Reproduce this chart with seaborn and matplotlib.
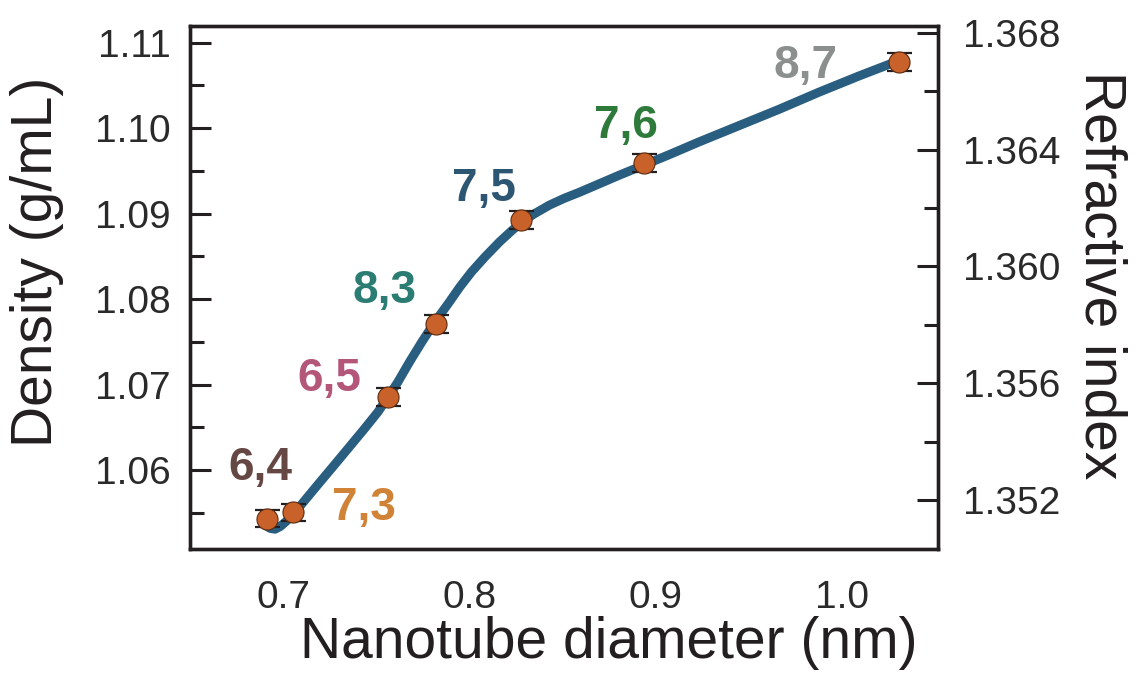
import matplotlib
matplotlib.use("Agg")

import matplotlib.pyplot as plt
from matplotlib.ticker import MultipleLocator, FormatStrFormatter
import pandas as pd
import seaborn as sns

# ---------------------------------------------------------------------------
# Data
# ---------------------------------------------------------------------------
chirality = ["6,4", "7,3", "6,5", "8,3", "7,5", "7,6", "8,7"]
diameter_nm = [0.6913, 0.7052, 0.7564, 0.7820, 0.8279, 0.8939, 1.0305]
density = [1.0543, 1.0551, 1.0686, 1.0771, 1.0892, 1.0959, 1.1077]
density_err = [0.0010, 0.0010, 0.00105, 0.00105, 0.00105, 0.00105, 0.00105]
label_colors = ["#654744", "#D08236", "#B45678", "#2B7C72",
                "#2D5672", "#2D7A3A", "#8B908F"]

# smooth guide line
curve_d = [0.6909, 0.6930, 0.6957, 0.6984, 0.7016, 0.7054, 0.7118, 0.7198,
           0.7279, 0.7359, 0.7439, 0.7509, 0.7562, 0.7616, 0.7680, 0.7745,
           0.7820, 0.7884, 0.7948, 0.8012, 0.8082, 0.8162, 0.8227, 0.8280,
           0.8350, 0.8430, 0.8510, 0.8591, 0.8698, 0.8805, 0.8939, 0.9073,
           0.9234, 0.9448, 0.9662, 0.9876, 1.0091, 1.0305]
curve_rho = [1.0535, 1.0532, 1.0531, 1.0534, 1.0540, 1.0548, 1.0565, 1.0586,
             1.0607, 1.0628, 1.0649, 1.0668, 1.0685, 1.0703, 1.0727, 1.0750,
             1.0775, 1.0794, 1.0814, 1.0832, 1.0849, 1.0867, 1.0880, 1.0890,
             1.0900, 1.0910, 1.0918, 1.0925, 1.0935, 1.0945, 1.0957, 1.0969,
             1.0984, 1.1003, 1.1022, 1.1042, 1.1061, 1.1079]

# right axis (refractive index) ticks
ri_ticks = [1.352, 1.356, 1.360, 1.364, 1.368]

# label offsets in points (dx, dy) relative to each point
label_offsets = [(-5, 28), (51, -6), (-42, 4), (-37, 15),
                 (-27, 14), (-13, 18), (-67, -11)]

# ---------------------------------------------------------------------------
# Style
# ---------------------------------------------------------------------------
sns.set_style("white")
plt.rcParams["font.family"] = ["Liberation Sans", "DejaVu Sans"]
INK = "#231f20"
LINE = "#2A5E80"
DOT = "#C9622A"

pts = pd.DataFrame({"d": diameter_nm, "rho": density, "err": density_err})
curve = pd.DataFrame({"d": curve_d, "rho": curve_rho})

fig = plt.figure(figsize=(11.37, 6.82), dpi=100)
ax = fig.add_axes([0.167, 0.195, 0.658, 0.767])

sns.lineplot(data=curve, x="d", y="rho", sort=False, color=LINE,
             linewidth=6.5, solid_capstyle="round", solid_joinstyle="round",
             ax=ax, zorder=2)
ax.errorbar(pts["d"], pts["rho"], yerr=pts["err"], fmt="none",
            ecolor=INK, elinewidth=1.3, capsize=9, capthick=1.6, zorder=3)
sns.scatterplot(data=pts, x="d", y="rho", color=DOT, s=230,
                edgecolor="#5a2a10", linewidth=0.8, ax=ax, zorder=4)

for txt, col, (dx, dy), x, y in zip(chirality, label_colors, label_offsets,
                                    diameter_nm, density):
    ax.annotate(txt, (x, y), xytext=(dx, dy), textcoords="offset points",
                ha="center", va="baseline", fontsize=33, fontweight="bold",
                color=col)

ax.set_xlim(0.65, 1.0515)
ax.set_ylim(1.05078, 1.11195)
ax.xaxis.set_major_locator(MultipleLocator(0.1))
ax.xaxis.set_minor_locator(MultipleLocator(0.02))
ax.yaxis.set_major_locator(MultipleLocator(0.01))
ax.yaxis.set_minor_locator(MultipleLocator(0.005))
ax.xaxis.set_major_formatter(FormatStrFormatter("%.1f"))
ax.yaxis.set_major_formatter(FormatStrFormatter("%.2f"))

ax2 = ax.twinx()
ax2.set_ylim(1.35032, 1.36824)
ax2.set_yticks(ri_ticks)
ax2.yaxis.set_minor_locator(MultipleLocator(0.002))
ax2.yaxis.set_major_formatter(FormatStrFormatter("%.3f"))

for a in (ax, ax2):
    for s in a.spines.values():
        s.set_visible(True)
        s.set_linewidth(2.4)
        s.set_color(INK)
    a.tick_params(which="both", direction="in", color=INK, width=2.2,
                  labelcolor="#2a2a2a")
    a.tick_params(which="major", length=15)
    a.tick_params(which="minor", length=10)

ax.tick_params(axis="x", which="major", labelsize=28, pad=22)
ax.tick_params(axis="y", which="major", labelsize=28, pad=14)
ax2.tick_params(axis="y", which="major", labelsize=28, pad=18)
ax.tick_params(axis="y", which="both", right=False)

ax.set_xlabel("Nanotube diameter (nm)", fontsize=41, color=INK)
ax.set_ylabel("Density (g/mL)", fontsize=41, color=INK)
ax2.set_ylabel("Refractive index", fontsize=41, color=INK, rotation=270)
ax.xaxis.label.set_va("center")
ax.yaxis.label.set_va("center")
ax2.yaxis.label.set_va("center")
ax.xaxis.set_label_coords(0.56, -0.180)
ax.yaxis.set_label_coords(-0.205, 0.549)
ax2.yaxis.set_label_coords(1.217, 0.524)

fig.savefig("out.png", dpi=100)
